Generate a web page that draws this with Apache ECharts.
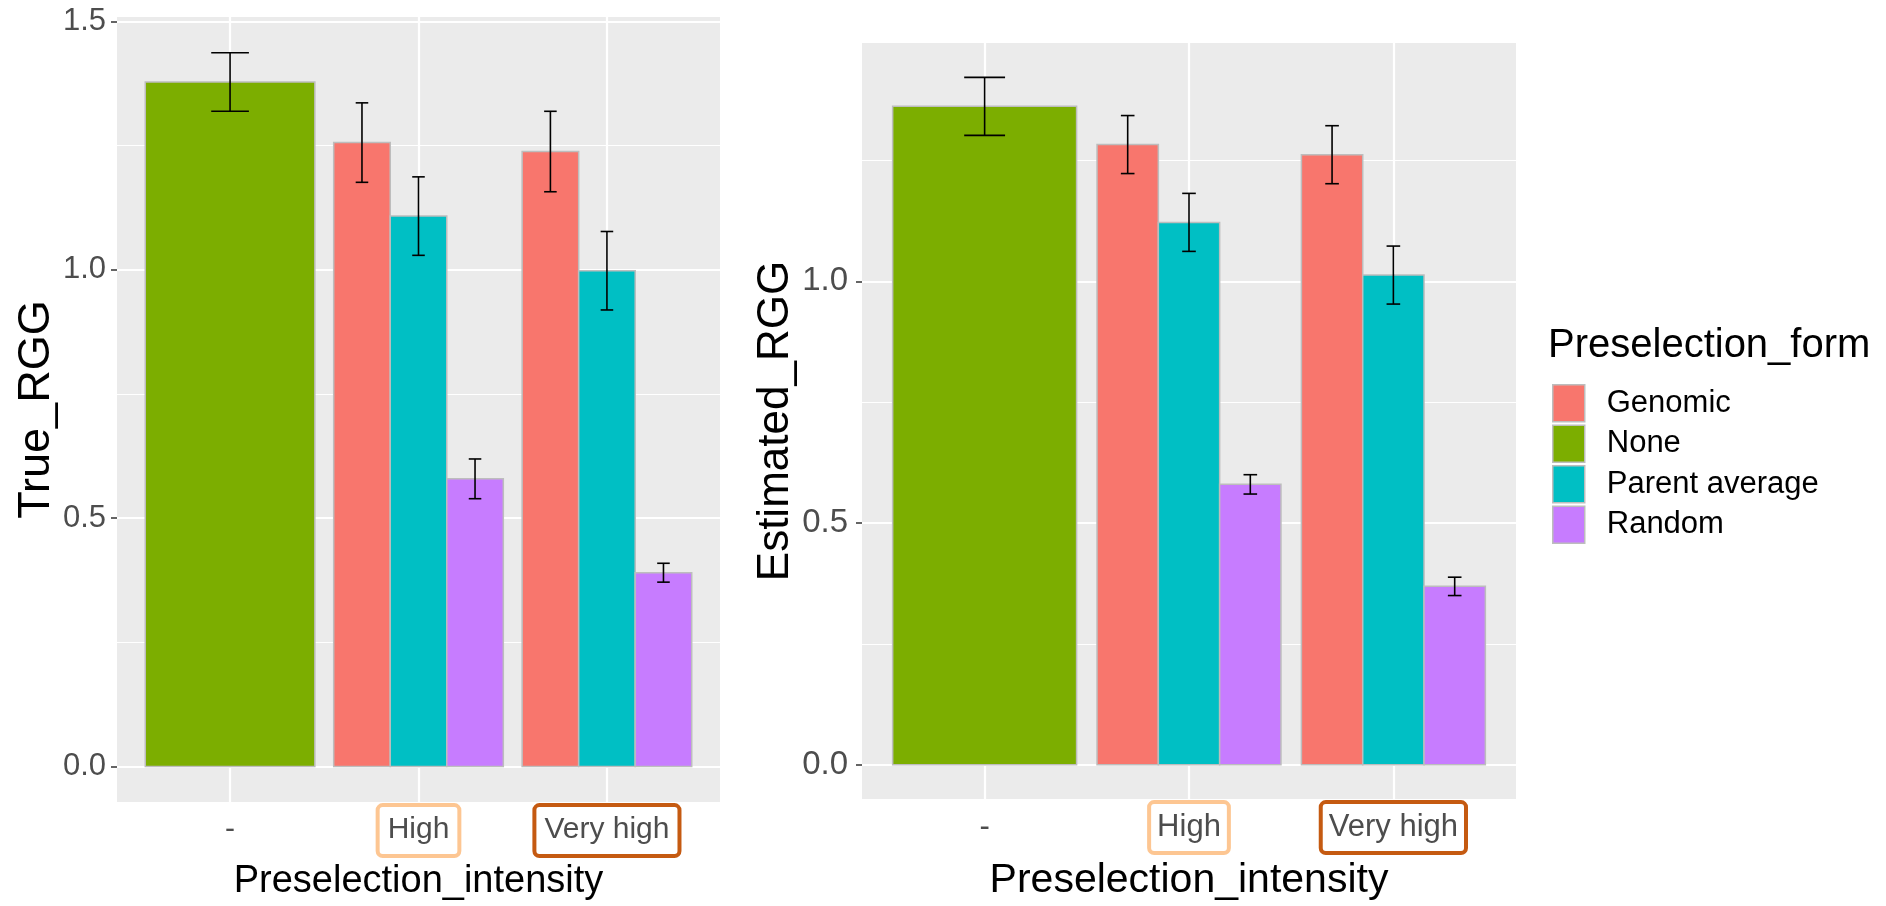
<!DOCTYPE html>
<html><head><meta charset="utf-8">
<script src="https://cdn.jsdelivr.net/npm/echarts@6/dist/echarts.min.js"></script>
<style>html,body{margin:0;padding:0;background:#fff}#c{width:1886px;height:906px}</style>
</head><body><div id="c"></div>
<script>
// ---------- data ----------
const categories = ['-', 'High', 'Very high'];
const forms = ['Genomic', 'None', 'Parent average', 'Random'];
const yTicks = [0, 0.5, 1.0, 1.5];

// True_RGG (left panel): mean and half-width of error bar
const trueGenomic   = [null, 1.256, 1.238];
const trueGenomicSE = [null, 0.080, 0.081];
const trueNone      = [1.378, null, null];
const trueNoneSE    = [0.059, null, null];
const trueParent    = [null, 1.108, 0.998];
const trueParentSE  = [null, 0.079, 0.079];
const trueRandom    = [null, 0.579, 0.390];
const trueRandomSE  = [null, 0.040, 0.019];

// Estimated_RGG (right panel)
const estGenomic    = [null, 1.283, 1.262];
const estGenomicSE  = [null, 0.060, 0.060];
const estNone       = [1.362, null, null];
const estNoneSE     = [0.060, null, null];
const estParent     = [null, 1.122, 1.013];
const estParentSE   = [null, 0.060, 0.060];
const estRandom     = [null, 0.580, 0.369];
const estRandomSE   = [null, 0.020, 0.019];

// ---------- styles ----------
const FONT = "'Liberation Sans', Arial, sans-serif";
const formColors = {'Genomic':'#F8766D','None':'#7CAE00','Parent average':'#00BFC4','Random':'#C77CFF'};
const labelBox = {'High':'light','Very high':'dark'};
const panels = [
  {means:[trueGenomic,trueNone,trueParent,trueRandom], ses:[trueGenomicSE,trueNoneSE,trueParentSE,trueRandomSE],
   yName:'True_RGG', grid:{left:117, top:17, width:603, height:789},
   tickFont:31, tickMargin:11, xLabFont:30, xPad:[8,8,9,8], xTitleFont:38, xNameGap:54, yTitleFont:45, yNameGap:55},
  {means:[estGenomic,estNone,estParent,estRandom], ses:[estGenomicSE,estNoneSE,estParentSE,estRandomSE],
   yName:'Estimated_RGG', grid:{left:862, top:43, width:654, height:766},
   tickFont:33, tickMargin:14, xLabFont:31, xPad:[8,6,8,6], xTitleFont:41, xNameGap:51, yTitleFont:44, yNameGap:61}
];

function renderItem(params, api) {
  const x = api.value(0), v = api.value(1), se = api.value(2), slot = api.value(3), n = api.value(4);
  const w = 0.9 / n;
  const cx = x - 0.45 + w * (slot + 0.5);
  const tl = api.coord([cx - w / 2, v]);
  const br = api.coord([cx + w / 2, 0]);
  const ew = 0.2 / n;
  const t = api.coord([cx, v + se]), b = api.coord([cx, v - se]);
  const tL = api.coord([cx - ew / 2, v + se]), tR = api.coord([cx + ew / 2, v + se]);
  const bL = api.coord([cx - ew / 2, v - se]), bR = api.coord([cx + ew / 2, v - se]);
  const es = {stroke:'#000', lineWidth:1.6};
  return {type:'group', children:[
    {type:'rect', shape:{x:tl[0], y:tl[1], width:br[0]-tl[0], height:br[1]-tl[1]},
     style:{fill:api.visual('color'), stroke:'#BDBDBD', lineWidth:1.5}},
    {type:'line', z2:2, shape:{x1:t[0], y1:t[1], x2:b[0], y2:b[1]}, style:es},
    {type:'line', z2:2, shape:{x1:tL[0], y1:tL[1], x2:tR[0], y2:tR[1]}, style:es},
    {type:'line', z2:2, shape:{x1:bL[0], y1:bL[1], x2:bR[0], y2:bR[1]}, style:es}
  ]};
}

const grids = [], xAxes = [], yAxes = [], series = [];
const catPos = categories.map((c, i) => i + 1);

panels.forEach((p, pi) => {
  grids.push(Object.assign({show:true, backgroundColor:'#EBEBEB', borderWidth:0}, p.grid));
  // ggplot-like expansion (5% of the data range)
  let maxTop = 0;
  p.means.forEach((arr, fi) => arr.forEach((m, ci) => { if (m != null) maxTop = Math.max(maxTop, m + p.ses[fi][ci]); }));
  const lo = -0.05 * maxTop, hi = maxTop * 1.05;
  const ticks = yTicks.filter(t => t >= lo && t <= hi);
  const minor = [];
  for (let i = 0; i < yTicks.length - 1; i++) { const m = (yTicks[i] + yTicks[i+1]) / 2; if (m <= hi) minor.push(m); }

  const rich = {
    plain:{fontSize:p.xLabFont, color:'#4D4D4D', fontFamily:FONT, padding:p.xPad},
    light:{fontSize:p.xLabFont, color:'#4D4D4D', fontFamily:FONT, padding:p.xPad, borderColor:'#FDC692', borderWidth:4, borderRadius:3, backgroundColor:'#fff'},
    dark:{fontSize:p.xLabFont, color:'#4D4D4D', fontFamily:FONT, padding:p.xPad, borderColor:'#C55A11', borderWidth:4, borderRadius:3, backgroundColor:'#fff'}
  };
  xAxes.push({type:'value', gridIndex:pi, min:1 - 0.6, max:categories.length + 0.6,
    axisLine:{show:false}, splitLine:{show:false},
    axisTick:{show:true, customValues:catPos, length:4, lineStyle:{color:'#333', width:1.5}},
    axisLabel:{customValues:catPos, margin:5, formatter:v => { const c = categories[Math.round(v) - 1]; return '{' + (labelBox[c] || 'plain') + '|' + c + '}'; }, rich:rich},
    name:'Preselection_intensity', nameLocation:'middle', nameGap:p.xNameGap,
    nameTextStyle:{fontSize:p.xTitleFont, color:'#000', fontFamily:FONT}});
  yAxes.push({type:'value', gridIndex:pi, min:lo, max:hi,
    axisLine:{show:false}, splitLine:{show:false},
    axisTick:{show:true, customValues:ticks, length:6, lineStyle:{color:'#333', width:1.5}},
    axisLabel:{customValues:ticks, formatter:v => v.toFixed(1), fontSize:p.tickFont, color:'#4D4D4D', fontFamily:FONT, margin:p.tickMargin, padding:[5,0,0,0]},
    name:p.yName, nameLocation:'middle', nameGap:p.yNameGap,
    nameTextStyle:{fontSize:p.yTitleFont, color:'#000', fontFamily:FONT}});

  // panel grid lines
  const major = {color:'#fff', width:2.2, type:'solid'}, minorS = {color:'#fff', width:1.2, type:'solid'};
  series.push({type:'line', name:'grid' + pi, xAxisIndex:pi, yAxisIndex:pi, data:[], silent:true, z:1,
    markLine:{silent:true, animation:false, symbol:['none','none'], label:{show:false}, z:1, lineStyle:{type:'solid'},
      data:[].concat(ticks.map(t => ({yAxis:t, lineStyle:major})),
                     minor.map(t => ({yAxis:t, lineStyle:minorS})),
                     catPos.map(t => ({xAxis:t, lineStyle:major})))}});

  // dodge: which forms are present at each category
  const present = categories.map((c, ci) => forms.filter((f, fi) => p.means[fi][ci] != null));
  forms.forEach((f, fi) => {
    const data = [];
    categories.forEach((c, ci) => {
      const m = p.means[fi][ci];
      if (m != null) data.push([ci + 1, m, p.ses[fi][ci], present[ci].indexOf(f), present[ci].length]);
    });
    series.push({type:'custom', name:f, xAxisIndex:pi, yAxisIndex:pi, z:3, renderItem:renderItem,
      itemStyle:{color:formColors[f]}, encode:{x:0, y:1}, data:data});
  });
});

const chart = echarts.init(document.getElementById('c'));
chart.setOption({
  animation:false,
  backgroundColor:'#fff',
  textStyle:{fontFamily:FONT},
  title:{text:'Preselection_form', left:1548, top:326, padding:0,
    textStyle:{fontSize:40, fontWeight:'normal', color:'#000', fontFamily:FONT}},
  legend:{orient:'vertical', left:1552, top:384, padding:0, itemWidth:32, itemHeight:37, itemGap:2,
    icon:'rect', data:forms, selectedMode:false,
    itemStyle:{borderColor:'#BDBDBD', borderWidth:1.5},
    textStyle:{fontSize:31, color:'#000', fontFamily:FONT, padding:[0,0,0,17]}},
  grid:grids, xAxis:xAxes, yAxis:yAxes, series:series
});
</script></body></html>
